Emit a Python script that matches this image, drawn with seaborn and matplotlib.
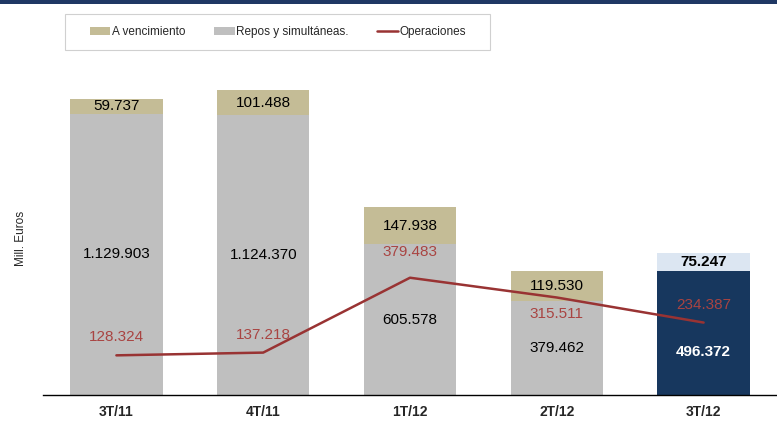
import numpy as np
import pandas as pd
import matplotlib
matplotlib.use("Agg")
import matplotlib.pyplot as plt
import seaborn as sns
from matplotlib.patches import Patch, Rectangle
from matplotlib.lines import Line2D

# data
categories = ["3T/11", "4T/11", "1T/12", "2T/12", "3T/12"]
repos = [1129.903, 1124.370, 605.578, 379.462, 496.372]
vencimiento = [59.737, 101.488, 147.938, 119.530, 75.247]
operaciones = [128.324, 137.218, 379.483, 315.511, 234.387]
repos_labels = ["1.129.903", "1.124.370", "605.578", "379.462", "496.372"]
venc_labels = ["59.737", "101.488", "147.938", "119.530", "75.247"]
oper_labels = ["128.324", "137.218", "379.483", "315.511", "234.387"]

TAN = "#C4BC96"
GRAY = "#BFBFBF"
NAVY = "#17375E"
LIGHT = "#DCE6F2"
RED = "#993333"
RED_TXT = "#A94442"


def build_frame():
    df = pd.DataFrame({"cat": categories, "repos": repos, "venc": vencimiento,
                       "oper": operaciones})
    df["total"] = df["repos"] + df["venc"]
    df["pos"] = np.arange(len(df))
    return df


def plot_chart(df):
    sns.set_style("white")
    plt.rcParams["font.family"] = ["Liberation Sans", "DejaVu Sans"]

    fig = plt.figure(figsize=(7.77, 4.25), dpi=100)
    W, H = 777, 425
    ax = fig.add_axes([43 / W, 1 - 395 / H, 734 / W, 390 / H])

    top_pal = [TAN] * 4 + [LIGHT]
    bot_pal = [GRAY] * 4 + [NAVY]
    sns.barplot(data=df, x="cat", y="total", hue="cat", palette=top_pal,
                width=0.63, legend=False, ax=ax, saturation=1)
    sns.barplot(data=df, x="cat", y="repos", hue="cat", palette=bot_pal,
                width=0.63, legend=False, ax=ax, saturation=1)
    for p in ax.patches:
        p.set_edgecolor("none")

    ax.set_ylim(0, 1567)
    ax.set_yticks([])
    ax.set_ylabel("Mill. Euros", fontsize=8.5)
    ax.yaxis.set_label_coords(-16 / 734, (395 - 238) / 390)
    ax.set_xlabel("")
    for s in ["top", "right", "left"]:
        ax.spines[s].set_visible(False)
    ax.spines["bottom"].set_color("black")
    ax.spines["bottom"].set_linewidth(1.0)

    # labels on bars
    for i, row in df.iterrows():
        last = i == len(df) - 1
        frac = 0.35 if last else 0.5
        ax.text(row["pos"], row["repos"] * frac, repos_labels[i], ha="center",
                va="center", fontsize=11, color="white" if last else "black",
                fontweight="bold" if last else "normal")
        ax.text(row["pos"], row["repos"] + row["venc"] / 2, venc_labels[i],
                ha="center", va="center", fontsize=11, color="black",
                fontweight="bold" if last else "normal")

    # line on secondary axis
    ax2 = ax.twinx()
    sns.lineplot(x=df["pos"], y=df["oper"], color=RED, linewidth=1.8, ax=ax2)
    ax2.set_ylim(0, 1262)
    ax2.set_yticks([])
    ax2.set_ylabel("")
    ax2.set_xlabel("")
    for s in ax2.spines.values():
        s.set_visible(False)
    offsets = [18, 18, 26, -17, 18]
    for i, row in df.iterrows():
        ax2.annotate(oper_labels[i], (row["pos"], row["oper"]),
                     xytext=(0, offsets[i] * 0.72), textcoords="offset points",
                     ha="center", va="center", fontsize=11, color=RED_TXT)

    # x axis set last so the twin plot does not reset it
    for a in (ax, ax2):
        a.set_autoscalex_on(False)
    ax.set_xlim(-0.5, 4.45)
    ax2.set_xlim(-0.5, 4.45)
    ax.set_xticks(df["pos"])
    ax.set_xticklabels(categories, fontsize=10, fontweight="bold")
    ax.tick_params(axis="x", length=0, pad=7)
    ax.set_xticks(np.arange(-0.5, 4.6, 1), minor=True)
    ax.tick_params(axis="x", which="minor", length=4, color="#D9D9D9", width=0.8)

    # legend with a hand-drawn frame
    fig.patches.append(Rectangle((65 / W, 1 - 50 / H), 425 / W, 36 / H,
                                 transform=fig.transFigure, facecolor="white",
                                 edgecolor="#D0D0D0", linewidth=0.8, zorder=0))
    handles = [Patch(facecolor=TAN, edgecolor="none", label="A vencimiento"),
               Patch(facecolor=GRAY, edgecolor="none", label="Repos y simultáneas."),
               Line2D([0], [0], color=RED, linewidth=1.8, label="Operaciones")]
    leg = fig.legend(handles=handles, loc="center", bbox_to_anchor=(278 / W, 1 - 32 / H),
                     ncol=3, frameon=False, fontsize=8.5,
                     handlelength=1.75, handleheight=0.6, handletextpad=0.15,
                     columnspacing=2.4)
    for t in leg.get_texts():
        t.set_fontfamily(["Liberation Sans Narrow", "Liberation Sans"])

    # dark band on top
    fig.patches.append(Rectangle((0, 1 - 4 / H), 1, 4 / H, transform=fig.transFigure,
                                 facecolor="#1F3864", edgecolor="none"))

    fig.savefig("out.png", dpi=100)


def main():
    df = build_frame()
    plot_chart(df)


if __name__ == "__main__":
    main()
